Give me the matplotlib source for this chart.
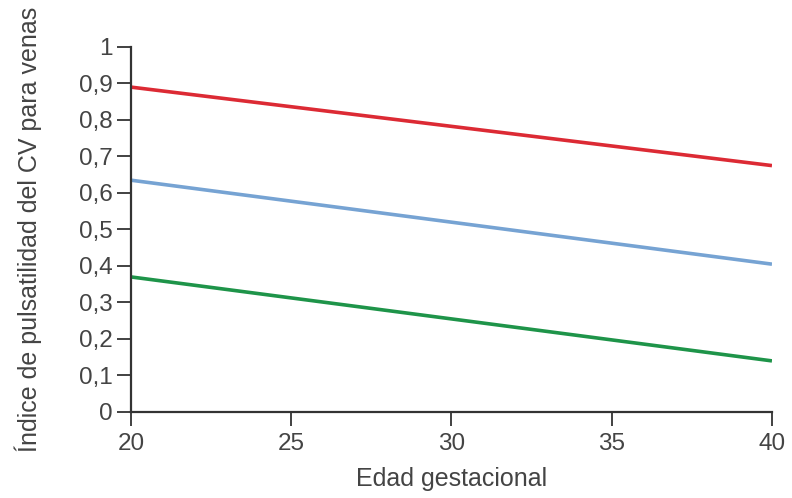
import matplotlib
matplotlib.use('Agg')
import matplotlib.pyplot as plt
from matplotlib.ticker import FuncFormatter

plt.rcParams['font.family'] = ['Liberation Sans', 'DejaVu Sans']

# datos
edad = [20, 40]
rojo = [0.89, 0.675]
azul = [0.635, 0.405]
verde = [0.37, 0.14]

fig = plt.figure(figsize=(7.92, 4.98), dpi=100)
ax = fig.add_axes([0.1654, 0.1727, 0.8093, 0.733])

ax.plot(edad, rojo, color='#dc2a34', lw=2.6, solid_capstyle='butt')
ax.plot(edad, azul, color='#76a3d3', lw=2.6, solid_capstyle='butt')
ax.plot(edad, verde, color='#1e9449', lw=2.6, solid_capstyle='butt')

ax.set_xlim(20, 40)
ax.set_ylim(0, 1)
ax.set_xticks([20, 25, 30, 35, 40])
ax.set_yticks([i / 10 for i in range(11)])
ax.yaxis.set_major_formatter(FuncFormatter(lambda v, p: ('%g' % round(v, 1)).replace('.', ',')))

for s in ['top', 'right']:
    ax.spines[s].set_visible(False)
for s in ['left', 'bottom']:
    ax.spines[s].set_color('#333333')
    ax.spines[s].set_linewidth(1.6)
ax.tick_params(direction='out', length=10, width=1.3, color='#333333',
               labelsize=17.5, labelcolor='#444444', pad=3)
ax.tick_params(axis='x', pad=5)

ax.set_xlabel('Edad gestacional', fontsize=18, color='#444444', labelpad=9)
ax.set_ylabel('Índice de pulsatilidad del CV para venas', fontsize=18,
              color='#444444', labelpad=27)

fig.savefig('out.png', dpi=100)
